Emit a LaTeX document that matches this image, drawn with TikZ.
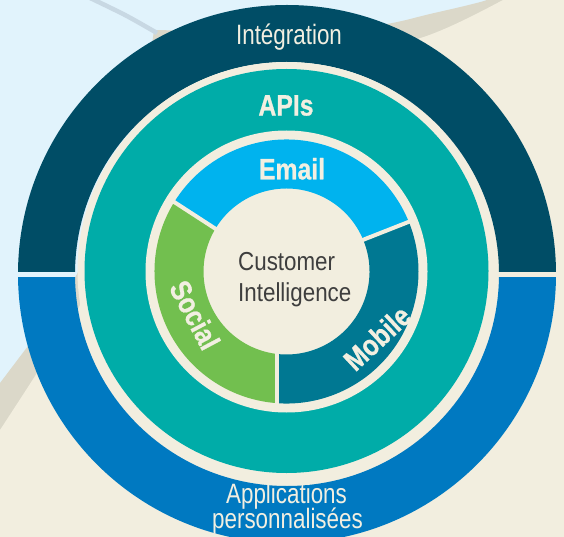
\documentclass[tikz,border=0pt]{standalone}
\usepackage{fontspec}
\setmainfont{Liberation Sans}
\newfontfamily\condreg{Liberation Sans}[FakeStretch=0.80]
\newfontfamily\condmid{Liberation Sans}[FakeStretch=0.86]
\newfontfamily\condbold{Liberation Sans}[FakeStretch=0.84,FakeBold=0.8]
\definecolor{bglight}{HTML}{E1F3FC}
\definecolor{bgband}{HTML}{DBD8C9}
\definecolor{bgbeige}{HTML}{F2EEDF}
\definecolor{arcline}{HTML}{C8D8E3}
\definecolor{darkring}{HTML}{004D66}
\definecolor{bluering}{HTML}{0079C1}
\definecolor{tealc}{HTML}{00ACA8}
\definecolor{creamc}{HTML}{F2EEDF}
\definecolor{emailc}{HTML}{00B3EE}
\definecolor{socialc}{HTML}{72BF4F}
\definecolor{mobilec}{HTML}{007892}
\definecolor{darktext}{HTML}{3E3E3E}
\definecolor{lighttext}{HTML}{F2EFE1}
\begin{document}
\begin{tikzpicture}[x=1pt,y=1pt,
  divider/.style={draw=creamc,line width=4pt},
  lightlbl/.style={text=lighttext,inner sep=0pt,font={\condreg\fontsize{28}{25}\selectfont}},
  boldlbl/.style={text=lighttext,inner sep=0pt,font={\condbold\bfseries\fontsize{29.5}{30}\selectfont}},
  centerlbl/.style={text=darktext,inner sep=0pt,font={\condmid\fontsize{26}{30}\selectfont}}]
\useasboundingbox (0,0) rectangle (564,536);
\clip (0,0) rectangle (564,536);
% background
\fill[bglight] (0,0) rectangle (564,536);
\fill[bgband] plot[smooth] coordinates {(-5,147) (0,153) (25,186) (55,225) (80,268) (105,330) (128,389) (143,439) (150,478) (154,506)}
  -- plot[smooth] coordinates {(154,506) (220,505) (300,506) (380,511) (430,522) (487,536) (497,546)}
  -- (580,546) -- (580,-10) -- (-5,-10) -- cycle;
\fill[bgbeige] plot[smooth] coordinates {(-5,99) (0,106) (37,163) (80,231) (130,360) (200,470) (300,490) (413,496) (503,536) (510,546)}
  -- (580,546) -- (580,-10) -- (-5,-10) -- cycle;
\draw[arcline,line width=4.5pt] plot[smooth] coordinates {(86,540) (125,521) (157,503)};
% outer ring
\begin{scope}
  \clip (0,265) rectangle (564,540);
  \fill[darkring,even odd rule] (287,262) circle[radius=269] (287,262) circle[radius=212];
\end{scope}
\begin{scope}
  \clip (0,-10) rectangle (564,259);
  \fill[bluering,even odd rule] (287,262) circle[radius=269] (287,262) circle[radius=212];
\end{scope}
% teal ring
\fill[creamc] (286.5,265) circle[radius=209];
\fill[tealc] (286.5,265) circle[radius=202];
% donut
\coordinate (dc) at (286.5,264.5);
\fill[creamc] (dc) circle[radius=141];
\fill[emailc] ([shift={(dc)}]22.3:132) arc[start angle=22.3,end angle=148.5,radius=132]
  -- ([shift={(dc)}]148.5:83) arc[start angle=148.5,end angle=22.3,radius=83] -- cycle;
\begin{scope}
  \clip (0,0) rectangle (276.5,536);
  \fill[socialc] ([shift={(dc)}]148.5:132) arc[start angle=148.5,end angle=290,radius=132]
    -- ([shift={(dc)}]290:83) arc[start angle=290,end angle=148.5,radius=83] -- cycle;
\end{scope}
\begin{scope}
  \clip (276.5,0) rectangle (564,536);
  \fill[mobilec] ([shift={(dc)}]250:132) arc[start angle=250,end angle=382.3,radius=132]
    -- ([shift={(dc)}]382.3:83) arc[start angle=382.3,end angle=250,radius=83] -- cycle;
\end{scope}
\coordinate (d1a) at (222,303);
\coordinate (d1b) at (168,338);
\coordinate (d2a) at (355,293);
\coordinate (d2b) at (416,317);
\coordinate (d3a) at (276.5,190);
\coordinate (d3b) at (276.5,125);
\draw[divider] (d1a) -- (d1b);
\draw[divider] (d2a) -- (d2b);
\draw[divider] (d3a) -- (d3b);
% labels
\node[lightlbl,anchor=base] (integ) at (289,491) {Intégration};
\node[boldlbl] (apis) at (286,430.5) {APIs};
\node[boldlbl] (email) at (292,367.2) {Email};
\node[boldlbl,rotate=-62] (social) at (195,221) {Social};
\node[boldlbl,rotate=43] (mobile) at (377,198) {Mobile};
\node[centerlbl,anchor=base west] (cust) at (238,266) {Customer};
\node[centerlbl,anchor=base west] (intel) at (238,235) {Intelligence};
\node[lightlbl,anchor=base] (appl) at (286.5,33) {Applications};
\node[lightlbl,anchor=base] (perso) at (287.5,8) {personnalisées};
\end{tikzpicture}
\end{document}
